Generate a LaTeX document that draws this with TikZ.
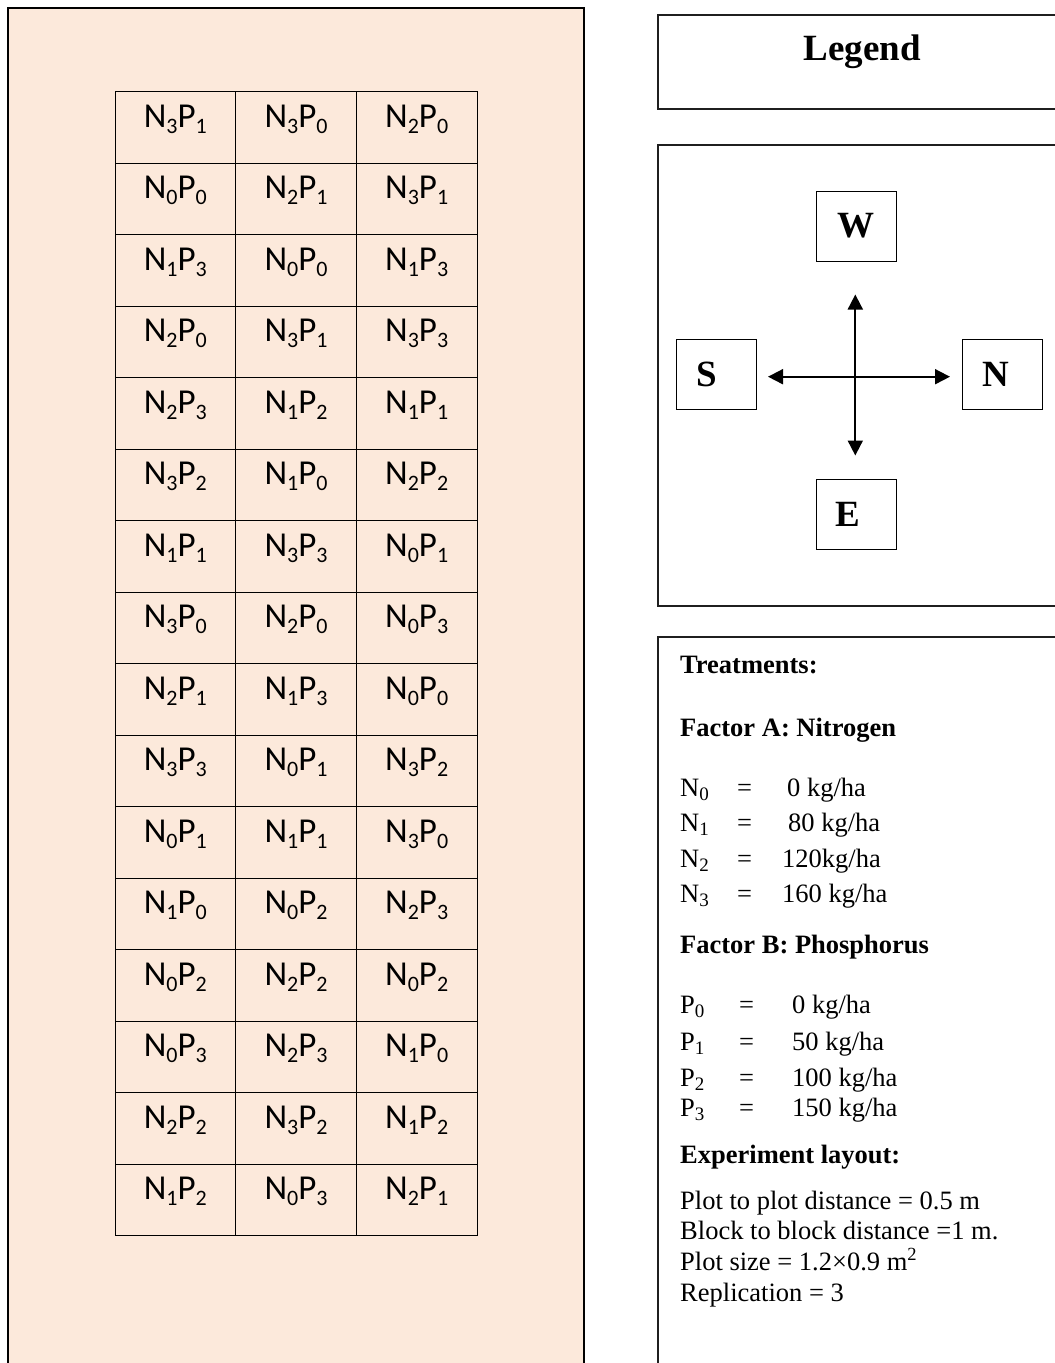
\documentclass[tikz,border=0pt]{standalone}
\usepackage{fontspec}
\setmainfont{Liberation Serif}
\newfontfamily\calfont{Carlito}
\usetikzlibrary{arrows.meta}
\definecolor{peach}{RGB}{252,233,219}
\newcommand\gsub[1]{\raisebox{-5.7pt}{\fontsize{22}{24}\selectfont #1}}
\newcommand\NP[2]{N\gsub{#1}P\gsub{#2}}
\newcommand\tsub[1]{\raisebox{-4pt}{\fontsize{19}{20}\selectfont #1}}
\begin{document}
\begin{tikzpicture}[x=1pt,y=-1pt,
  plot/.style={draw, line width=0.9pt, minimum width=120.67pt, minimum height=71.5pt, inner sep=0pt, text height=10pt, text depth=10pt, font=\calfont\fontsize{35}{40}\selectfont},
  dirbox/.style={draw, line width=1pt, minimum width=80pt, minimum height=70pt, inner sep=0pt, font=\bfseries\fontsize{37}{40}\selectfont},
  frame/.style={line width=1.6pt, draw=black!88},
  body/.style={anchor=base west, inner sep=0pt, font=\fontsize{26.5}{30}\selectfont},
  head/.style={anchor=base west, inner sep=0pt, font=\bfseries\fontsize{26.5}{30}\selectfont},
  arr/.style={line width=1.8pt, {Triangle[length=15pt,width=15pt]}-{Triangle[length=15pt,width=15pt]}},
]
\useasboundingbox (0,0) rectangle (1055,1363);
\clip (0,0) rectangle (1055,1363);
% left field panel
\fill[peach] (8,8) rectangle (584,1380);
\draw[line width=1.3pt] (8,1380) -- (8,8) -- (584,8) -- (584,1380);
% plots
\foreach \row [count=\i] in {{31,30,20},{00,21,31},{13,00,13},{20,31,33},{23,12,11},{32,10,22},{11,33,01},{30,20,03},{21,13,00},{33,01,32},{01,11,30},{10,02,23},{02,22,02},{03,23,10},{22,32,12},{12,03,21}}{
  \foreach \v [count=\j] in \row {
    \node[plot] (c\i-\j) at ({175.33+(\j-1)*120.67},{127.45+(\i-1)*71.5}) {\expandafter\NP\v};
  }
}
% legend title
\draw[frame] (1080,15) -- (658,15) -- (658,109) -- (1080,109);
\node[anchor=base, inner sep=0pt, font=\bfseries\fontsize{37}{40}\selectfont] (legendtitle) at (862,60) {Legend};
% compass
\draw[frame] (1080,145) -- (658,145) -- (658,606) -- (1080,606);
\node[dirbox] (W) at (856,226) {W};
\node[dirbox] (S) at (716.5,374) {S\kern19pt};
\node[dirbox] (N) at (1002.5,374) {N\kern13pt};
\node[dirbox] (E) at (856,514) {E\kern16pt};
\draw[arr, shorten <=11pt, shorten >=12pt] ([yshift=-2.7pt]S.east) -- ([yshift=-2.7pt]N.west);
\draw[arr, shorten <=33pt, shorten >=23pt] ([xshift=-0.7pt]W.south) -- ([xshift=-0.7pt]E.north);
% treatments
\draw[frame] (1080,637) -- (658,637) -- (658,1380);
\node[head] (tr) at (680,673) {Treatments:};
\node[head] (fa) at (680,736) {Factor A: Nitrogen};
\node[body] (n0) at (680,796) {N\tsub{0}};
\node[body] (n0e) at (737,796) {=};
\node[body] (n0v) at (787,796) {0 kg/ha};
\node[body] (n1) at (680,831.7) {N\tsub{1}};
\node[body] (n1e) at (737,831.7) {=};
\node[body] (n1v) at (788,831.7) {80 kg/ha};
\node[body] (n2) at (680,867) {N\tsub{2}};
\node[body] (n2e) at (737,867) {=};
\node[body] (n2v) at (782,867) {120kg/ha};
\node[body] (n3) at (680,902) {N\tsub{3}};
\node[body] (n3e) at (737,902) {=};
\node[body] (n3v) at (782,902) {160 kg/ha};
\node[head] (fb) at (680,953) {Factor B: Phosphorus};
\node[body] (p0) at (680,1013) {P\tsub{0}};
\node[body] (p0e) at (739,1013) {=};
\node[body] (p0v) at (792,1013) {0 kg/ha};
\node[body] (p1) at (680,1050) {P\tsub{1}};
\node[body] (p1e) at (739,1050) {=};
\node[body] (p1v) at (792,1050) {50 kg/ha};
\node[body] (p2) at (680,1086) {P\tsub{2}};
\node[body] (p2e) at (739,1086) {=};
\node[body] (p2v) at (792,1086) {100 kg/ha};
\node[body] (p3) at (680,1116.7) {P\tsub{3}};
\node[body] (p3e) at (739,1116.7) {=};
\node[body] (p3v) at (792,1116.7) {150 kg/ha};
\node[head] (el) at (680,1163) {Experiment layout:};
\node[body] (l1) at (680,1209) {Plot to plot distance = 0.5 m};
\node[body] (l2) at (680,1239) {Block to block distance =1 m.};
\node[body] (l3) at (680,1270) {Plot size = 1.2×0.9 m\textsuperscript{2}};
\node[body] (l4) at (680,1301) {Replication = 3};
\end{tikzpicture}
\end{document}
